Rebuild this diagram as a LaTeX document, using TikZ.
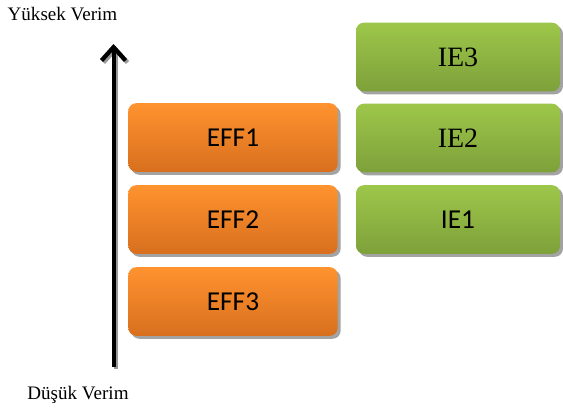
\documentclass[tikz,border=0pt]{standalone}
\usepackage{fontspec}
\setmainfont{Liberation Serif}
\newfontfamily\calib{Carlito}
\usetikzlibrary{arrows.meta,shadows}
\definecolor{orTop}{HTML}{FF932F}
\definecolor{orBot}{HTML}{D86F1E}
\definecolor{grTop}{HTML}{9DC74A}
\definecolor{grBot}{HTML}{7EA03A}
\tikzset{
  boxbase/.style={rounded corners=6pt, minimum width=157pt, minimum height=51.5pt,
    inner sep=0pt, text=black,
    drop shadow={shadow xshift=2.2pt, shadow yshift=-2.2pt, fill=black!45, opacity=0.8}},
  orbox/.style={boxbase, top color=orTop, bottom color=orBot, font=\calib\fontsize{20.5}{24}\selectfont},
  grbox/.style={boxbase, minimum width=153pt, top color=grTop, bottom color=grBot},
  grsans/.style={grbox, font=\calib\fontsize{20.5}{24}\selectfont},
  grserif/.style={grbox, font=\fontsize{21}{24}\selectfont},
  lbl/.style={font=\fontsize{14.3}{17}\selectfont, inner sep=0pt}
}
\begin{document}
\begin{tikzpicture}[x=0.75pt,y=-0.75pt]
\useasboundingbox (0,0) rectangle (563,410);
% labels
\node[lbl] (hi) at (62.5,14) {Yüksek Verim};
\node[lbl] (lo) at (78,395) {Düşük Verim};
% arrow
\coordinate (abot) at (113.5,367);
\coordinate (atop) at (113.5,44);
\draw[line width=3pt, black!40, -{Straight Barb[length=10pt,width=18pt,line width=3.2pt]}] ([shift={(2,2)}]abot) -- ([shift={(2,2)}]atop);
\draw[line width=3pt, black, -{Straight Barb[length=10pt,width=18pt,line width=3.2pt]}] (abot) -- (atop);
% boxes
\node[orbox] (eff1) at (233,137.5) {EFF1};
\node[orbox] (eff2) at (233,219.5) {EFF2};
\node[orbox] (eff3) at (233,301.5) {EFF3};
\node[grserif] (ie3) at (458,57) {IE3};
\node[grserif] (ie2) at (458,138) {IE2};
\node[grsans] (ie1) at (458,219.5) {IE1};
\end{tikzpicture}
\end{document}
